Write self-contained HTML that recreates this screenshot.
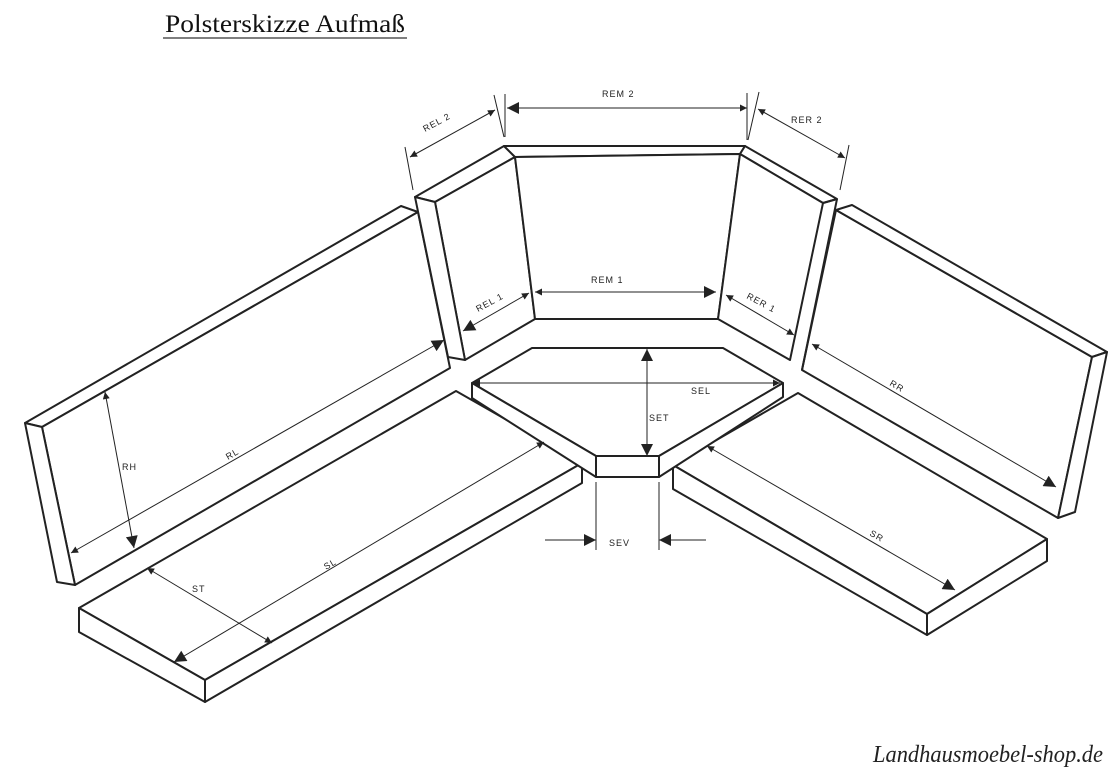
<!DOCTYPE html>
<html><head><meta charset="utf-8"><style>
html,body{margin:0;padding:0;background:#fff;}
svg{display:block;}
.o{fill:#fff;stroke:#222;stroke-width:2;stroke-linejoin:round}
.l{fill:none;stroke:#222;stroke-width:2}
.d{fill:none;stroke:#222;stroke-width:1}
.t{font-family:"Liberation Sans",sans-serif;font-size:9px;fill:#222;letter-spacing:1px}
</style></head><body>
<svg width="1116" height="773" viewBox="0 0 1116 773" xmlns="http://www.w3.org/2000/svg">
<defs>
<marker id="a" viewBox="0 0 10 10" refX="10" refY="5" markerWidth="9" markerHeight="7" orient="auto-start-reverse" markerUnits="userSpaceOnUse"><path d="M0,0 L10,5 L0,10 z" fill="#222"/></marker>
<marker id="b" viewBox="0 0 10 10" refX="10" refY="5" markerWidth="18" markerHeight="12" orient="auto-start-reverse" markerUnits="userSpaceOnUse"><path d="M0,0 L10,5 L0,10 z" fill="#222"/></marker>
</defs>
<text x="165" y="32" font-family="Liberation Serif,serif" font-size="25" fill="#111" textLength="240" lengthAdjust="spacingAndGlyphs">Polsterskizze Aufmaß</text>
<line x1="163" y1="38" x2="407" y2="38" stroke="#555" stroke-width="1.5"/>

<!-- Left back panel -->
<polygon class="o" points="25,423 401,206 418,212 42,427"/>
<polygon class="o" points="42,427 418,212 450,368 75,585"/>
<polygon class="o" points="25,423 42,427 75,585 57,582"/>

<!-- Left seat -->
<polygon class="o" points="79,608 456,391 582,463 205,680"/>
<polygon class="o" points="79,608 205,680 205,702 79,632"/>
<polygon class="o" points="205,680 582,463 582,483 205,702"/>

<!-- Left corner panel -->
<polygon class="o" points="415,197 504,146 515,157 435,202"/>
<polygon class="o" points="435,202 515,157 535,319 465,360"/>
<polygon class="o" points="415,197 435,202 465,360 448,357"/>
<!-- Middle panel -->
<polygon class="o" points="504,146 745,146 740,154 515,157"/>
<polygon class="o" points="515,157 740,154 718,319 535,319"/>
<!-- Right corner panel -->
<polygon class="o" points="745,146 837,199 823,203 740,154"/>
<polygon class="o" points="740,154 823,203 790,360 718,319"/>
<line class="l" x1="837" y1="199" x2="823" y2="203"/>

<!-- Right back panel -->
<polygon class="o" points="836,210 1092,357 1058,518 802,370"/>
<polygon class="o" points="836,210 852,205 1107,352 1092,357"/>
<polygon class="o" points="1092,357 1107,352 1075,512 1058,518"/>
<line class="l" x1="837" y1="199" x2="802" y2="370"/>

<!-- Right seat -->
<polygon class="o" points="673,465 798,393 1047,539 927,614"/>
<polygon class="o" points="673,465 927,614 927,635 673,489"/>
<polygon class="o" points="927,614 1047,539 1047,561 927,635"/>

<!-- Center seat -->
<polygon class="o" points="532,348 723,348 783,383 659,456 596,456 472,383"/>
<polygon class="o" points="472,383 596,456 596,477 472,398"/>
<polygon class="o" points="596,456 659,456 659,477 596,477"/>
<polygon class="o" points="659,456 783,383 783,397 659,477"/>

<!-- Dimension lines -->
<line class="d" x1="71" y1="553" x2="444" y2="340" marker-start="url(#a)" marker-end="url(#b)"/>
<line class="d" x1="105" y1="392" x2="134" y2="548" marker-start="url(#a)" marker-end="url(#b)"/>
<line class="d" x1="147" y1="568" x2="272" y2="643" marker-start="url(#a)" marker-end="url(#a)"/>
<line class="d" x1="174" y1="662" x2="544" y2="442" marker-start="url(#b)" marker-end="url(#a)"/>
<line class="d" x1="463" y1="331" x2="529" y2="293" marker-start="url(#b)" marker-end="url(#a)"/>
<line class="d" x1="535" y1="292" x2="716" y2="292" marker-start="url(#a)" marker-end="url(#b)"/>
<line class="d" x1="726" y1="295" x2="794" y2="335" marker-start="url(#a)" marker-end="url(#a)"/>
<line class="d" x1="812" y1="344" x2="1056" y2="487" marker-start="url(#a)" marker-end="url(#b)"/>
<line class="d" x1="707" y1="446" x2="955" y2="590" marker-start="url(#a)" marker-end="url(#b)"/>
<line class="d" x1="473" y1="383" x2="780" y2="383" marker-start="url(#a)" marker-end="url(#a)"/>
<line class="d" x1="647" y1="349" x2="647" y2="456" marker-start="url(#b)" marker-end="url(#b)"/>
<line class="d" x1="507" y1="108" x2="747" y2="108" marker-start="url(#b)" marker-end="url(#a)"/>
<line class="d" x1="410" y1="157" x2="495" y2="110" marker-start="url(#a)" marker-end="url(#a)"/>
<line class="d" x1="758" y1="109" x2="845" y2="158" marker-start="url(#a)" marker-end="url(#a)"/>
<line class="d" x1="494" y1="95" x2="504" y2="137"/>
<line class="d" x1="505" y1="94" x2="505" y2="137"/>
<line class="d" x1="747" y1="93" x2="747" y2="140"/>
<line class="d" x1="759" y1="92" x2="748" y2="140"/>
<line class="d" x1="405" y1="147" x2="413" y2="190"/>
<line class="d" x1="849" y1="145" x2="840" y2="190"/>
<line class="d" x1="596" y1="482" x2="596" y2="550"/>
<line class="d" x1="659" y1="482" x2="659" y2="550"/>
<line class="d" x1="545" y1="540" x2="596" y2="540" marker-end="url(#b)"/>
<line class="d" x1="706" y1="540" x2="659" y2="540" marker-end="url(#b)"/>

<!-- Labels -->
<text class="t" transform="translate(228,460) rotate(-30)">RL</text>
<text class="t" x="122" y="470">RH</text>
<text class="t" transform="translate(326,570) rotate(-30)">SL</text>
<text class="t" x="192" y="592">ST</text>
<text class="t" transform="translate(478,312) rotate(-28)">REL 1</text>
<text class="t" x="591" y="283">REM 1</text>
<text class="t" transform="translate(746,298) rotate(28)">RER 1</text>
<text class="t" x="691" y="394">SEL</text>
<text class="t" x="649" y="421">SET</text>
<text class="t" transform="translate(889,385) rotate(30)">RR</text>
<text class="t" transform="translate(869,535) rotate(30)">SR</text>
<text class="t" x="602" y="97">REM 2</text>
<text class="t" transform="translate(425,132) rotate(-28)">REL 2</text>
<text class="t" x="791" y="123">RER 2</text>
<text class="t" x="609" y="546">SEV</text>

<text x="873" y="762" font-family="Liberation Serif,serif" font-style="italic" font-size="24" fill="#222" textLength="230" lengthAdjust="spacingAndGlyphs">Landhausmoebel-shop.de</text>
</svg>
</body></html>
